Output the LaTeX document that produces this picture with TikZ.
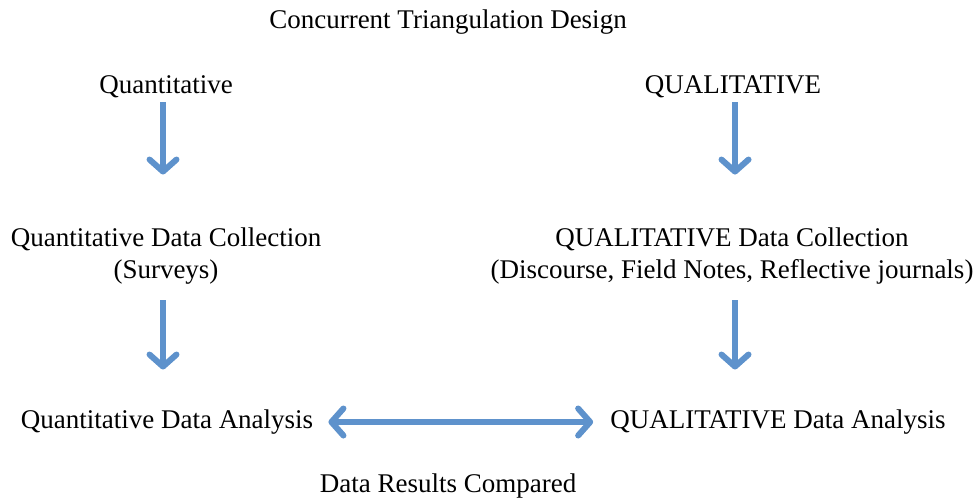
\documentclass[tikz,border=0pt]{standalone}
\usepackage{fontspec}
\setmainfont{Liberation Serif}
\usetikzlibrary{arrows.meta}
\definecolor{arrowblue}{RGB}{94,146,204}

\begin{document}
\begin{tikzpicture}[x=1pt,y=-1pt,
    lbl/.style={inner sep=0pt,align=center,font=\fontsize{27}{32}\selectfont},
    barb/.tip={Straight Barb[length=12pt,width=27pt,line cap=round,line join=round]},
    flow/.style={draw=arrowblue,line width=6pt,-barb}]
      \useasboundingbox (0,0) rectangle (976,498);
      \node[lbl] (title) at (448,22) {Concurrent Triangulation Design};
      \node[lbl] (quan) at (166,87) {Quantitative};
      \node[lbl] (qual) at (733,87) {QUALITATIVE};
      \node[lbl] (quancol) at (166,256) {Quantitative Data Collection\\(Surveys)};
      \node[lbl] (qualcol) at (732,256) {QUALITATIVE Data Collection\\(Discourse, Field Notes, Reflective journals)};
      \node[lbl] (quanana) at (167,422) {Quantitative Data Analysis};
      \node[lbl] (qualana) at (778,422) {QUALITATIVE Data Analysis};
      \node[lbl] (result) at (448,486) {Data Results Compared};
      \coordinate (lcol) at (163,0);
      \coordinate (rcol) at (735,0);
      \draw[flow,shorten <=4pt,shorten >=53pt] (quan.south -| lcol) -- (quancol.north -| lcol);
      \draw[flow,shorten <=4pt,shorten >=53pt] (qual.south -| rcol) -- (qualcol.north -| rcol);
      \draw[flow,shorten <=16pt,shorten >=40pt] (quancol.south -| lcol) -- (quanana.north -| lcol);
      \draw[flow,shorten <=16pt,shorten >=40pt] (qualcol.south -| rcol) -- (qualana.north -| rcol);
      \draw[flow,barb-barb,shorten <=15pt,shorten >=17pt] (quanana.east) -- (qualana.west);
    \end{tikzpicture}
\end{document}
